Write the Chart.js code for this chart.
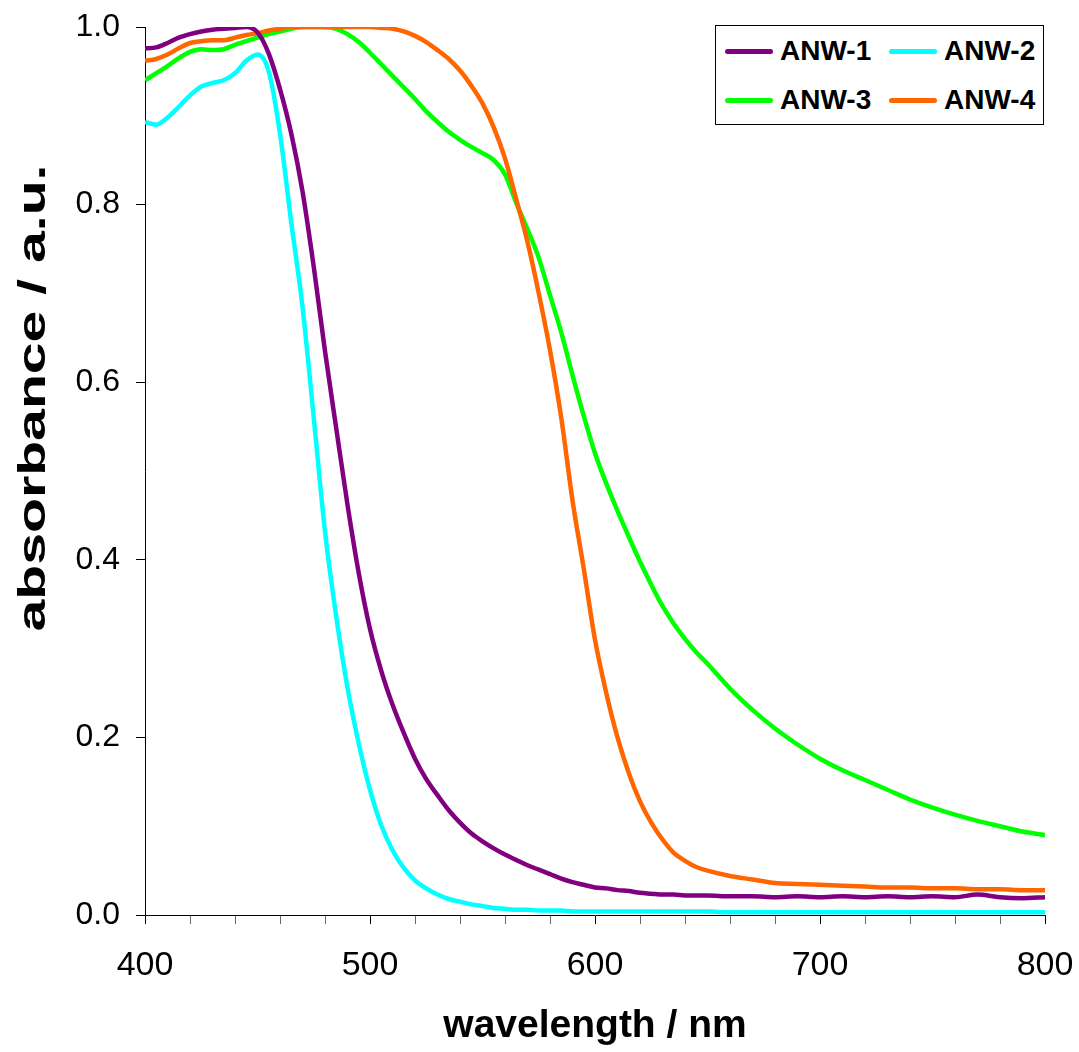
<!DOCTYPE html>
<html>
<head>
<meta charset="utf-8">
<title>ANW absorbance spectra</title>
<script src="https://cdn.jsdelivr.net/npm/chart.js@4.4.0/dist/chart.umd.min.js"></script>
<style>
  html, body { margin:0; padding:0; background:#fff; }
  #wrap { position:relative; width:1079px; height:1052px; }
  #legend {
    position:absolute; left:715px; top:25px; width:327px; height:98px;
    border:1px solid #000; background:#fff; box-sizing:content-box;
    font-family:'Liberation Sans', Arial, sans-serif; font-weight:bold; font-size:28px;
  }
  .lg-item { position:absolute; display:flex; align-items:center; height:30px; }
  .lg-line { width:48px; height:5px; border-radius:3px; margin-right:7px; }
</style>
</head>
<body>
<div id="wrap">
  <canvas id="chart" width="1079" height="1052"></canvas>
  <div id="legend"></div>
</div>
<script>
'use strict';

// wavelength grid (nm) shared by all four spectra
const wavelengths = [
  400,405,410,415,420,425,430,435,440,445,450,455,460,465,470,475,480,485,490,495,
  500,505,510,515,520,525,530,535,540,545,550,555,560,565,570,575,580,585,590,595,
  600,605,610,615,620,625,630,635,640,645,650,660,670,680,690,700,710,720,730,740,
  750,760,770,780,790,800
];

const anw1 = [
  0.976,0.977,0.982,0.988,0.992,0.995,0.997,0.998,0.999,1.000,0.994,0.970,0.930,0.880,0.815,0.730,0.635,0.548,0.462,0.385,
  0.322,0.275,0.237,0.205,0.176,0.153,0.135,0.118,0.104,0.092,0.083,0.075,0.068,0.062,0.056,0.051,0.046,0.041,0.037,0.034,
  0.031,0.030,0.028,0.027,0.025,0.024,0.023,0.023,0.022,0.022,0.022,0.021,0.021,0.020,0.021,0.020,0.021,0.020,0.021,0.020,
  0.021,0.020,0.023,0.020,0.019,0.020
];

const anw2 = [
  0.893,0.890,0.898,0.910,0.923,0.933,0.937,0.940,0.948,0.962,0.969,0.950,0.880,0.780,0.685,0.560,0.432,0.336,0.256,0.193,
  0.141,0.101,0.073,0.053,0.039,0.030,0.023,0.018,0.015,0.012,0.010,0.008,0.007,0.006,0.006,0.005,0.005,0.005,0.004,0.004,
  0.004,0.004,0.004,0.004,0.004,0.004,0.004,0.004,0.004,0.004,0.004,0.003,0.003,0.003,0.003,0.003,0.003,0.003,0.003,0.003,
  0.003,0.003,0.003,0.003,0.003,0.003
];

const anw3 = [
  0.940,0.948,0.956,0.965,0.972,0.975,0.974,0.975,0.980,0.984,0.988,0.992,0.995,0.998,1.000,1.000,1.000,0.998,0.992,0.983,
  0.971,0.958,0.945,0.932,0.919,0.905,0.893,0.882,0.873,0.865,0.858,0.850,0.834,0.802,0.772,0.740,0.698,0.656,0.608,0.562,
  0.520,0.486,0.455,0.426,0.398,0.372,0.348,0.328,0.311,0.296,0.283,0.255,0.231,0.210,0.192,0.176,0.163,0.152,0.141,0.130,
  0.121,0.113,0.106,0.100,0.094,0.090
];

const anw4 = [
  0.962,0.964,0.969,0.976,0.982,0.984,0.985,0.985,0.988,0.991,0.993,0.996,0.998,1.000,1.000,1.000,1.000,1.000,1.000,1.000,
  1.000,0.999,0.998,0.995,0.990,0.983,0.974,0.964,0.951,0.934,0.914,0.887,0.852,0.806,0.758,0.700,0.636,0.560,0.467,0.390,
  0.310,0.250,0.200,0.160,0.128,0.104,0.085,0.070,0.061,0.054,0.050,0.044,0.040,0.036,0.035,0.034,0.033,0.032,0.031,0.031,
  0.030,0.030,0.029,0.029,0.028,0.028
];

const seriesNames   = ['ANW-1','ANW-2','ANW-3','ANW-4'];
const seriesValues  = [anw1, anw2, anw3, anw4];
const seriesColours = ['#800080','#00ffff','#00ff00','#ff6600'];
const drawOrder     = [1, 2, 4, 3];   // lower = drawn on top

const X_TITLE = 'wavelength / nm';
const Y_TITLE = 'absorbance / a.u.';
const FONT = "'Liberation Sans', Arial, sans-serif";

// y title is drawn by hand so it can sit where the original put it
const yTitlePlugin = {
  id: 'yTitle',
  afterDraw(chart) {
    const ctx = chart.ctx;
    ctx.save();
    ctx.font = 'bold 39px ' + FONT;
    ctx.fillStyle = '#000';
    ctx.textAlign = 'center';
    ctx.textBaseline = 'middle';
    ctx.translate(34, 398);
    ctx.rotate(-Math.PI / 2);
    const w = ctx.measureText(Y_TITLE).width;
    ctx.scale(467 / w, 1);
    ctx.fillText(Y_TITLE, 0, 0);
    ctx.restore();
  }
};

const datasets = seriesNames.map((name, i) => ({
  label: name,
  data: wavelengths.map((x, j) => ({ x, y: seriesValues[i][j] })),
  borderColor: seriesColours[i],
  backgroundColor: seriesColours[i],
  borderWidth: 4.5,
  pointRadius: 0,
  cubicInterpolationMode: 'monotone',
  order: drawOrder[i],
}));

new Chart(document.getElementById('chart'), {
  type: 'line',
  data: { datasets },
  plugins: [yTitlePlugin],
  options: {
    responsive: false,
    animation: false,
    layout: { padding: { top: 27, right: 34, left: 0, bottom: 0 } },
    plugins: { legend: { display: false }, tooltip: { enabled: false } },
    scales: {
      x: {
        type: 'linear', min: 400, max: 800,
        afterFit: s => { s.height = 137; s.paddingLeft = 0; s.paddingRight = 0; },
        border: { display: true, color: '#000', width: 1 },
        grid: {
          drawOnChartArea: false, drawTicks: true, tickLength: 9,
          tickColor: c => (c.tick && c.tick.value % 100 === 0) ? '#000' : '#666',
        },
        ticks: {
          stepSize: 20, padding: 21, color: '#000', maxRotation: 0, autoSkip: false,
          font: { family: FONT, size: 34 },
          callback: v => (v % 100 === 0 ? String(v) : ''),
        },
        title: {
          display: true, text: X_TITLE, color: '#000',
          font: { family: FONT, size: 39, weight: 'bold' },
          padding: { top: 0, bottom: 2 },
        },
      },
      y: {
        min: 0, max: 1,
        afterFit: s => { s.width = 145; s.paddingTop = 0; s.paddingBottom = 0; },
        border: { display: true, color: '#000', width: 1 },
        grid: { drawOnChartArea: false, drawTicks: true, tickLength: 9, tickColor: '#000' },
        ticks: {
          stepSize: 0.2, padding: 16, color: '#000',
          font: { family: FONT, size: 32 },
          callback: v => v.toFixed(1),
        },
        title: { display: false },
      },
    },
  },
});

// legend box, two columns like the original
const legendEl = document.getElementById('legend');
const legendPos = [[9, 10], [173, 10], [9, 59], [173, 59]];
seriesNames.forEach((name, i) => {
  const item = document.createElement('div');
  item.className = 'lg-item';
  item.style.left = legendPos[i][0] + 'px';
  item.style.top = legendPos[i][1] + 'px';
  item.innerHTML = `<span class="lg-line" style="background:${seriesColours[i]}"></span><span>${name}</span>`;
  legendEl.appendChild(item);
});
</script>
</body>
</html>
